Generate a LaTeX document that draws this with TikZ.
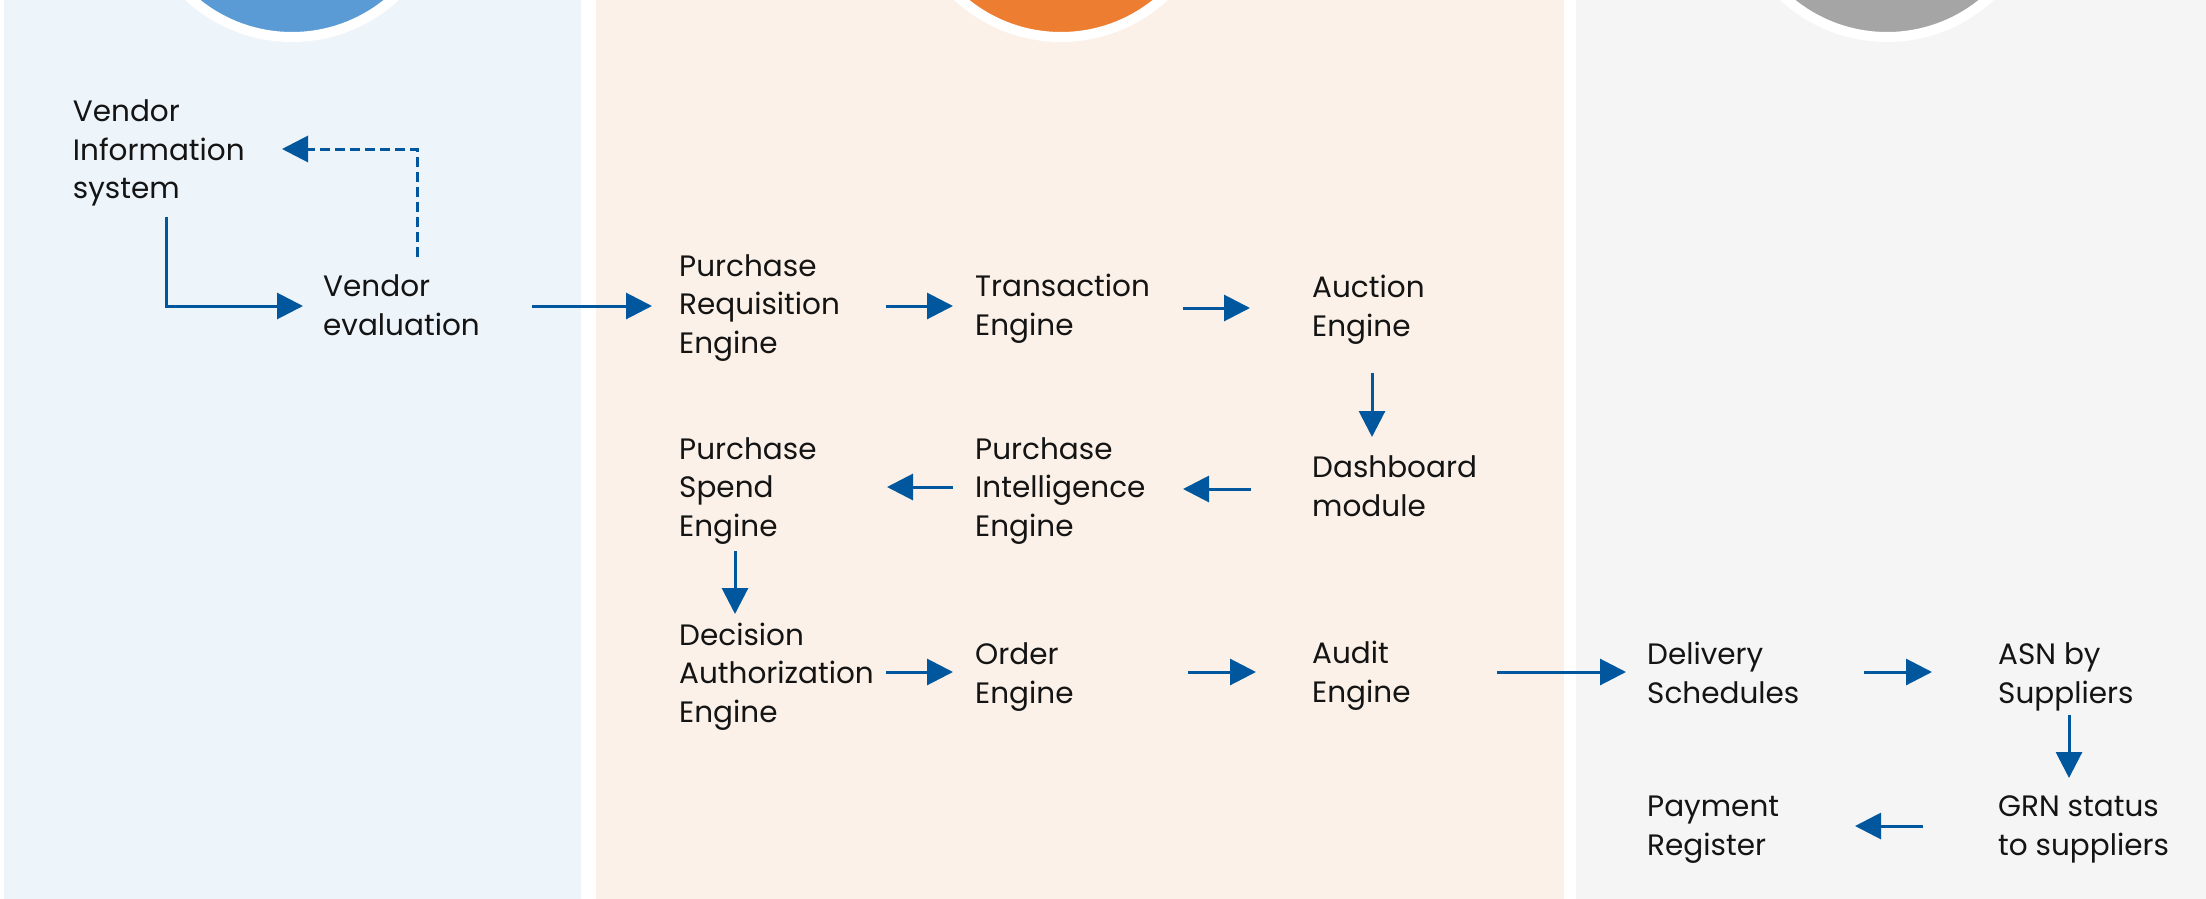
\documentclass[tikz,border=0pt]{standalone}
\usepackage{fontspec}
\setmainfont{Poppins}
\usetikzlibrary{arrows.meta}
\definecolor{bluePanel}{RGB}{237,244,250}
\definecolor{orangePanel}{RGB}{251,241,232}
\definecolor{grayPanel}{RGB}{245,245,245}
\definecolor{blueDisc}{RGB}{91,155,213}
\definecolor{orangeDisc}{RGB}{237,125,49}
\definecolor{grayDisc}{RGB}{165,165,165}
\definecolor{arrowBlue}{RGB}{0,87,158}
\definecolor{labelInk}{RGB}{20,20,20}
\tikzset{
  label/.style={anchor=base west, inner sep=0pt, align=left, text=labelInk,
    font=\fontsize{29.5}{38.3}\selectfont},
  flowarrow/.style={draw=arrowBlue, line width=3pt,
    -{Triangle[length=26pt,width=26pt]}},
  dashflow/.style={flowarrow, line width=3pt, dash pattern=on 10pt off 5pt},
  disc/.style={circle, inner sep=0pt, minimum size=304pt, draw=white, line width=10pt}
}
\begin{document}
\begin{tikzpicture}[x=1pt,y=-1pt]
\useasboundingbox (0,0) rectangle (2206,899);
\clip (0,0) rectangle (2206,899);
% panels
\fill[bluePanel] (3.5,0) rectangle (581,899);
\fill[orangePanel] (596,0) rectangle (1564,899);
\fill[grayPanel] (1576,0) rectangle (2206,899);
% discs
\node[disc, fill=blueDisc] (d1) at (292,-115) {};
\node[disc, fill=orangeDisc] (d2) at (1061,-115) {};
\node[disc, fill=grayDisc] (d3) at (1887,-115) {};
% labels (anchored at the baseline of their last line)
\node[label] (vis) at (72.7,198.3) {Vendor\\Information\\system};
\node[label] (ve) at (323,335) {Vendor\\evaluation};
\node[label] (pr) at (679,353) {Purchase\\Requisition\\Engine};
\node[label] (te) at (975,335) {Transaction\\Engine};
\node[label] (ae) at (1312,336) {Auction\\Engine};
\node[label] (dm) at (1312,516) {Dashboard\\module};
\node[label] (pi) at (975,536) {Purchase\\Intelligence\\Engine};
\node[label] (ps) at (679,536) {Purchase\\Spend\\Engine};
\node[label] (da) at (679,722) {Decision\\Authorization\\Engine};
\node[label] (oe) at (975,703) {Order\\Engine};
\node[label] (au) at (1312,702) {Audit\\Engine};
\node[label] (ds) at (1647,703) {Delivery\\Schedules};
\node[label] (asn) at (1998,703) {ASN by\\Suppliers};
\node[label] (grn) at (1998,855) {GRN status\\to suppliers};
\node[label] (pay) at (1647,855) {Payment\\Register};
% connector end points
\coordinate (visOut) at (166,217);
\coordinate (veIn) at (303,306);
\coordinate (veBack) at (417,257);
\coordinate (visIn) at (282,149);
\coordinate (veOut) at (532,306);
\coordinate (prIn) at (652,306);
\coordinate (prOut) at (886,306);
\coordinate (teIn) at (953,306);
\coordinate (teOut) at (1183,308);
\coordinate (aeIn) at (1250,308);
\coordinate (aeOut) at (1372,373);
\coordinate (dmIn) at (1372,437);
\coordinate (dmOut) at (1251,489);
\coordinate (piIn) at (1183,489);
\coordinate (piOut) at (953,487);
\coordinate (psIn) at (887,487);
\coordinate (psOut) at (735,551);
\coordinate (daIn) at (735,614);
\coordinate (daOut) at (886,672);
\coordinate (oeIn) at (953,672);
\coordinate (oeOut) at (1188,672);
\coordinate (auIn) at (1256,672);
\coordinate (auOut) at (1497,672);
\coordinate (dsIn) at (1626,672);
\coordinate (dsOut) at (1864,672);
\coordinate (asnIn) at (1932,672);
\coordinate (asnOut) at (2069,715);
\coordinate (grnIn) at (2069,778);
\coordinate (grnOut) at (1923,826);
\coordinate (payIn) at (1855,826);
% connectors
\draw[flowarrow] (visOut) |- (veIn);
\draw[dashflow] (veBack) |- (visIn);
\draw[flowarrow] (veOut) -- (prIn);
\draw[flowarrow] (prOut) -- (teIn);
\draw[flowarrow] (teOut) -- (aeIn);
\draw[flowarrow] (aeOut) -- (dmIn);
\draw[flowarrow] (dmOut) -- (piIn);
\draw[flowarrow] (piOut) -- (psIn);
\draw[flowarrow] (psOut) -- (daIn);
\draw[flowarrow] (daOut) -- (oeIn);
\draw[flowarrow] (oeOut) -- (auIn);
\draw[flowarrow] (auOut) -- (dsIn);
\draw[flowarrow] (dsOut) -- (asnIn);
\draw[flowarrow] (asnOut) -- (grnIn);
\draw[flowarrow] (grnOut) -- (payIn);
\end{tikzpicture}
\end{document}
